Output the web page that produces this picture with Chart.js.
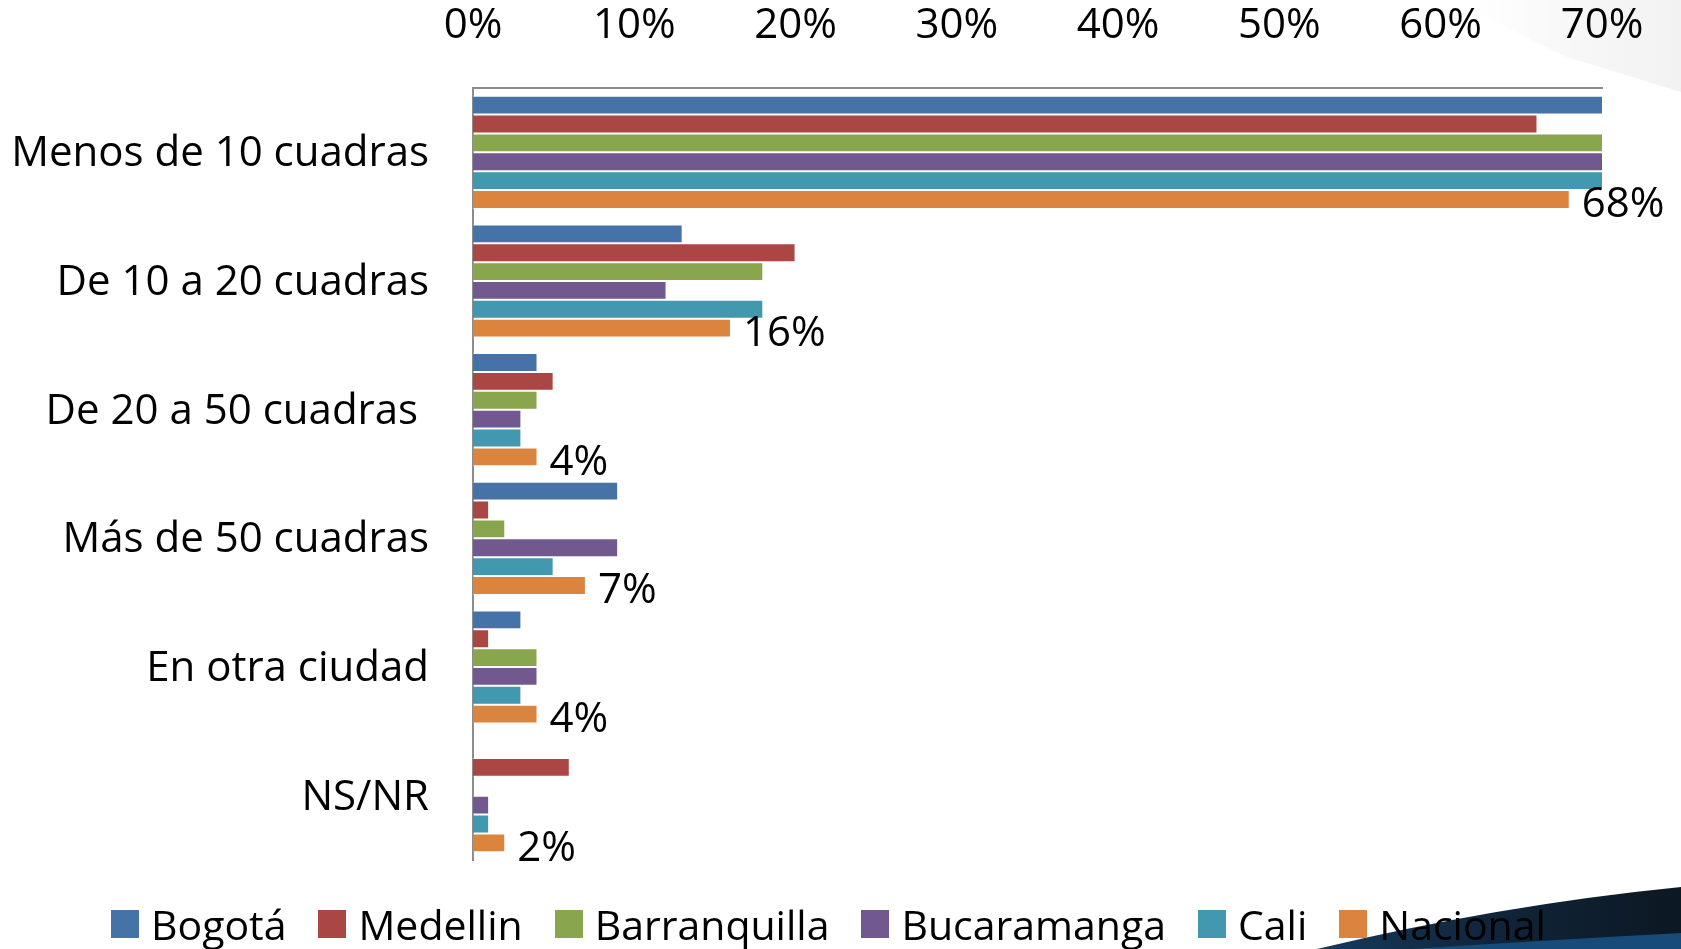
<!DOCTYPE html>
<html>
<head>
<meta charset="utf-8">
<script src="https://cdn.jsdelivr.net/npm/chart.js@4.4.1/dist/chart.umd.min.js"></script>
<style>
  html, body { margin: 0; padding: 0; background: #ffffff; }
  #wrap { width: 1681px; height: 949px; position: relative; overflow: hidden; }
  #c { position: absolute; left: 0; top: 0; }
  #legend { position: absolute; left: 111px; top: 899px; height: 50px; display: flex; align-items: center;
            font-family: 'Open Sans', sans-serif; font-size: 41px; line-height: 1; color: #000; white-space: nowrap; }
  .item { display: flex; align-items: center; margin-right: 32px; }
  .box { width: 28px; height: 28px; margin-right: 12px; }
</style>
</head>
<body>
<div id="wrap"><canvas id="c" width="1681" height="949"></canvas><div id="legend"></div></div>
<script>
const categories = ["Menos de 10 cuadras", "De 10 a 20 cuadras", "De 20 a 50 cuadras ", "Más de 50 cuadras", "En otra ciudad", "NS/NR"];
const seriesNames = ["Bogotá", "Medellin", "Barranquilla", "Bucaramanga", "Cali", "Nacional"];
const bogota       = [72, 13, 4, 9, 3, 0];
const medellin     = [66, 20, 5, 1, 1, 6];
const barranquilla = [73, 18, 4, 2, 4, 0];
const bucaramanga  = [73, 12, 3, 9, 4, 1];
const cali         = [72, 18, 3, 5, 3, 1];
const nacional     = [68, 16, 4, 7, 4, 2];
const xTicks = [0, 10, 20, 30, 40, 50, 60, 70];
const colors = ["#4572A7", "#AA4643", "#89A54E", "#71588F", "#4198AF", "#DB843D"];

const FONT = "'Open Sans', sans-serif";
const FS = 42;
const seriesData = [bogota, medellin, barranquilla, bucaramanga, cali, nacional];

const bgPlugin = {
  id: 'bgDecor',
  beforeDraw(chart) {
    const ctx = chart.ctx;
    const W = chart.width, H = chart.height;
    ctx.save();
    // faint gray shape top-right
    let g = ctx.createLinearGradient(1470, 0, W, 0);
    g.addColorStop(0, 'rgba(247,247,247,0)');
    g.addColorStop(0.5, 'rgba(247,247,247,1)');
    g.addColorStop(1, 'rgba(242,242,242,1)');
    ctx.fillStyle = g;
    ctx.beginPath();
    ctx.moveTo(1450, 0);
    ctx.lineTo(W, 0);
    ctx.lineTo(W, 92);
    ctx.lineTo(1567, 57);
    ctx.closePath();
    ctx.fill();
    // dark swoosh bottom-right
    g = ctx.createLinearGradient(1317, 0, W, 0);
    g.addColorStop(0, '#153a5e');
    g.addColorStop(0.5, '#10243a');
    g.addColorStop(1, '#0c1822');
    ctx.fillStyle = g;
    ctx.beginPath();
    ctx.moveTo(1317, H);
    ctx.quadraticCurveTo(1500, 905, W, 887);
    ctx.lineTo(W, H);
    ctx.closePath();
    ctx.fill();
    // lighter blue band
    ctx.fillStyle = '#174b79';
    ctx.beginPath();
    ctx.moveTo(1410, H);
    ctx.quadraticCurveTo(1550, 940, W, 933);
    ctx.lineTo(W, H);
    ctx.closePath();
    ctx.fill();
    ctx.restore();
  }
};

const labelPlugin = {
  id: 'nacLabels',
  afterDatasetsDraw(chart) {
    const ctx = chart.ctx;
    const idx = 5;
    const meta = chart.getDatasetMeta(idx);
    ctx.save();
    ctx.font = FS + "px " + FONT;
    ctx.fillStyle = '#000';
    ctx.textAlign = 'left';
    ctx.textBaseline = 'middle';
    meta.data.forEach((bar, i) => {
      const v = chart.data.datasets[idx].data[i];
      ctx.fillText(Math.round(v) + '%', bar.x + 12, bar.y + 6);
    });
    ctx.restore();
  }
};

const datasets = seriesNames.map((name, i) => ({
  label: name,
  data: seriesData[i],
  backgroundColor: colors[i],
  borderColor: 'rgba(255,255,255,0.45)',
  borderWidth: 1,
  borderSkipped: 'left',
  categoryPercentage: 0.88,
  barPercentage: 1.0
}));

const chart = new Chart(document.getElementById('c'), {
  type: 'bar',
  data: { labels: categories, datasets },
  plugins: [bgPlugin, labelPlugin],
  options: {
    indexAxis: 'y',
    responsive: false,
    animation: false,
    devicePixelRatio: 1,
    layout: { padding: { left: 0, right: 79, top: 0, bottom: 89 } },
    scales: {
      x: {
        position: 'top',
        min: 0,
        max: 70,
        afterBuildTicks(s) { s.ticks = xTicks.map(v => ({ value: v })); },
        afterFit(s) { s.height = 88; },
        grid: { display: false, drawTicks: false },
        border: { display: true, color: '#8c8c8c', width: 2 },
        ticks: {
          padding: 37,
          color: '#000',
          font: { family: FONT, size: FS },
          callback: v => v + '%'
        }
      },
      y: {
        afterFit(s) { s.width = 473; },
        grid: { display: false, drawTicks: false },
        border: { display: true, color: '#8c8c8c', width: 2 },
        ticks: {
          padding: 44,
          labelOffset: 2,
          color: '#000',
          font: { family: FONT, size: FS }
        }
      }
    },
    plugins: {
      legend: { display: false },
      tooltip: { enabled: false }
    }
  }
});

// legend built from the chart's datasets
const legendEl = document.getElementById('legend');
chart.data.datasets.forEach(ds => {
  const item = document.createElement('div');
  item.className = 'item';
  const box = document.createElement('span');
  box.className = 'box';
  box.style.background = ds.backgroundColor;
  const txt = document.createElement('span');
  txt.textContent = ds.label;
  item.appendChild(box);
  item.appendChild(txt);
  legendEl.appendChild(item);
});
</script>
</body>
</html>
